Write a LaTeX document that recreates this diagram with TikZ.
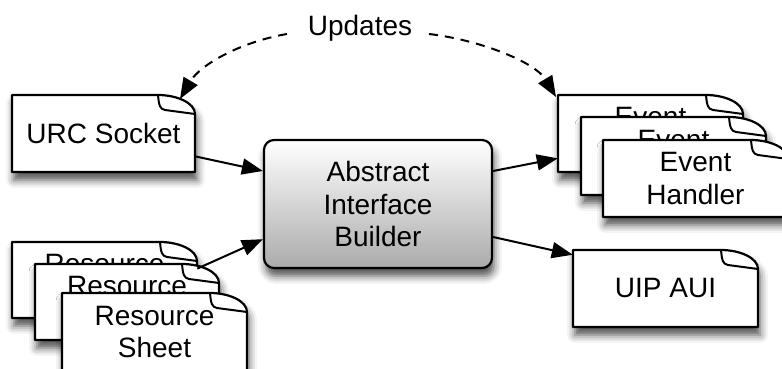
\documentclass[tikz,border=0pt]{standalone}
\usepackage{fontspec}
\setmainfont{Liberation Sans}
\usetikzlibrary{arrows.meta,shadows.blur,calc}
\tikzset{
  every node/.style={font=\fontsize{28}{32.5}\selectfont},
  docbody/.style={draw=black,line width=2.2pt,fill=white,line join=round,
    blur shadow={shadow xshift=2pt,shadow yshift=-8pt,shadow blur radius=8pt,shadow opacity=70}},
  docline/.style={draw=black,line width=2pt,line join=round},
  doctext/.style={inner sep=0pt,align=center},
  aibbox/.style={draw=black,line width=2.2pt,rounded corners=10pt,align=center,
    minimum width=228pt,minimum height=128pt,inner sep=0pt,
    top color=white,bottom color=black!33,
    blur shadow={shadow xshift=2pt,shadow yshift=-8pt,shadow blur radius=8pt,shadow opacity=70}},
  conn/.style={draw=black,line width=2pt,-{Triangle[length=21pt,width=16pt,fill=black]}},
  upd/.style={draw=black,line width=2pt,dash pattern=on 9pt off 7pt,-{Triangle[length=21pt,width=16pt,fill=black,sep=0pt]}},
}
% name, x0, y0, x1, y1, text
\newcommand{\docnode}[6]{%
  \path[docbody] (#2,#3) -- ({#4-37},#3) .. controls ({#4-18},#3) and (#4,{#3+8}) .. (#4,{#3+19}) -- (#4,#5) -- (#2,#5) -- cycle;
  \draw[docline] ({#4-37},#3) .. controls ({#4-36},{#3+11}) and ({#4-35},{#3+14}) .. ({#4-30},{#3+15}) -- (#4,{#3+19});
  \node[doctext,minimum width={#4-#2},minimum height={#5-#3}] (#1) at ({(#2+#4)/2},{(#3+#5)/2}) {#6};
}
\begin{document}
\begin{tikzpicture}[x=1pt,y=-1pt]
\useasboundingbox (0,0) rectangle (782,369);
\clip (0,0) rectangle (782,369);
% left documents
\docnode{urc}{12}{95}{195}{172}{URC Socket}
\docnode{resA}{12}{242}{197}{318}{Resource\\Sheet}
\docnode{resB}{35}{264}{219}{340}{Resource\\Sheet}
\docnode{resC}{62}{293}{247}{371}{Resource\\Sheet}
% right documents
\docnode{evA}{558}{95}{743}{172}{Event\\Handler}
\docnode{evB}{581}{117}{766}{195}{Event\\Handler}
\docnode{evC}{603}{140}{788}{217}{Event\\Handler}
\docnode{uip}{573}{250}{758}{327}{UIP AUI}
% central box
\node[aibbox] (aib) at (378,204) {Abstract\\Interface\\Builder};
% updates
\node[inner sep=2pt] (upd) at (360,28) {Updates};
\coordinate (updL) at (287,34);
\coordinate (updR) at (429,34);
\coordinate (urcTip) at (180,99);
\coordinate (evTip) at (556,97);
\draw[upd] (updL) .. controls (240,42) and (200,65) .. (urcTip);
\draw[upd] (updR) .. controls (480,40) and (535,62) .. (evTip);
% connectors
\draw[conn] (urc.-14) -- (aib.164);
\draw[conn] (resA.7) -- (aib.197);
\draw[conn] (aib.16) -- (evA.195);
\draw[conn] (aib.-16) -- (uip.160);
\end{tikzpicture}
\end{document}
